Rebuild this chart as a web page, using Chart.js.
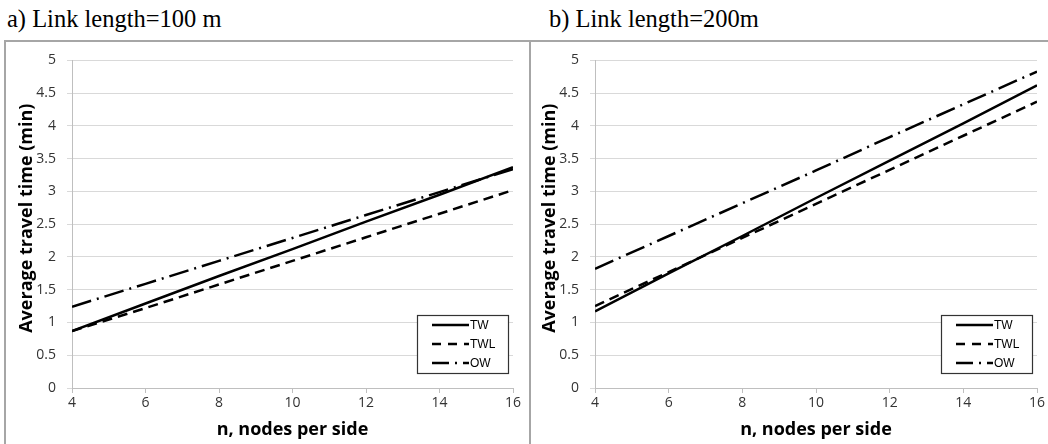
<!DOCTYPE html>
<html>
<head>
<meta charset="utf-8">
<script src="https://cdn.jsdelivr.net/npm/chart.js@4"></script>
<style>
  html, body { margin:0; padding:0; background:#fff; }
  body { width:1048px; height:444px; position:relative; overflow:hidden; }
  .ttl { position:absolute; top:7px; line-height:24px; font-family:"Liberation Serif", serif; font-size:24.5px; color:#000; white-space:nowrap; }
  .panel { position:absolute; top:40px; border:2px solid #a6a6a6; height:420px; box-sizing:border-box; }
  canvas { position:absolute; }
</style>
</head>
<body>
<div class="ttl" style="left:7px">a) Link length=100 m</div>
<div class="ttl" style="left:549px">b) Link length=200m</div>
<div class="panel" style="left:4px; width:527px;"></div>
<div class="panel" style="left:529px; width:530px;"></div>
<canvas id="c1" width="524" height="403" style="left:5px; top:41px;"></canvas>
<canvas id="c2" width="517" height="403" style="left:531px; top:41px;"></canvas>
<script>
// ---- data ----
const nodes = [4, 6, 8, 10, 12, 14, 16];
const yTicks = [0, 0.5, 1, 1.5, 2, 2.5, 3, 3.5, 4, 4.5, 5];
const seriesNames = ["TW", "TWL", "OW"];
// a) Link length = 100 m
const a_TW  = [0.87, 1.29, 1.71, 2.12, 2.54, 2.95, 3.37];
const a_TWL = [0.87, 1.22, 1.58, 1.94, 2.30, 2.66, 3.02];
const a_OW  = [1.24, 1.59, 1.94, 2.29, 2.64, 2.99, 3.34];
// b) Link length = 200 m
const b_TW  = [1.17, 1.75, 2.32, 2.90, 3.47, 4.04, 4.62];
const b_TWL = [1.25, 1.77, 2.29, 2.81, 3.33, 3.85, 4.37];
const b_OW  = [1.82, 2.32, 2.82, 3.32, 3.83, 4.33, 4.83];

const dashes = [[], [10, 6], [20, 6, 2, 6]];
const TICK_FONT = { family: "'Open Sans', sans-serif", size: 14 };
const TICK_COLOR = '#333';

function pts(arr) { return nodes.map((n, i) => ({ x: n, y: arr[i] })); }

const overlay = {
  id: 'overlay',
  afterDraw(chart) {
    const ctx = chart.ctx, ca = chart.chartArea;
    ctx.save();
    ctx.fillStyle = '#000';
    ctx.font = "bold 18px 'Open Sans', sans-serif";
    ctx.textAlign = 'center';
    ctx.textBaseline = 'middle';
    ctx.fillText('n, nodes per side', (ca.left + ca.right) / 2, ca.bottom + 42);
    ctx.translate(ca.left - 45, (ca.top + ca.bottom) / 2 - 6);
    ctx.rotate(-Math.PI / 2);
    ctx.fillText('Average travel time (min)', 0, 0);
    ctx.restore();
    // legend box
    ctx.save();
    const bx = ca.right - 96, by = ca.bottom - 73, bw = 91, bh = 58;
    ctx.fillStyle = '#fff';
    ctx.fillRect(bx, by, bw, bh);
    ctx.strokeStyle = '#333';
    ctx.lineWidth = 1.2;
    ctx.strokeRect(bx + 0.5, by + 0.5, bw, bh);
    ctx.font = "12px 'Liberation Sans', Arial, sans-serif";
    ctx.textAlign = 'left';
    ctx.textBaseline = 'middle';
    chart.data.datasets.forEach((ds, i) => {
      const yy = by + 10 + i * 19;
      ctx.beginPath();
      ctx.setLineDash(i === 2 ? [17, 6, 2, 6] : (i === 1 ? [9, 7] : []));
      ctx.lineWidth = 2.5;
      ctx.strokeStyle = '#000';
      ctx.moveTo(bx + 15, yy);
      ctx.lineTo(bx + 52, yy);
      ctx.stroke();
      ctx.setLineDash([]);
      ctx.fillStyle = '#000';
      ctx.fillText(ds.label, bx + 53, yy + 1);
    });
    ctx.restore();
  }
};

function makeChart(id, series, yAxisWidth, padRight) {
  new Chart(document.getElementById(id), {
    type: 'line',
    data: {
      datasets: series.map((s, i) => ({
        label: seriesNames[i],
        data: pts(s),
        borderColor: '#000',
        borderWidth: 2.5,
        borderDash: dashes[i],
        pointRadius: 0,
        fill: false,
        tension: 0
      }))
    },
    options: {
      responsive: false,
      devicePixelRatio: 1,
      animation: false,
      layout: { padding: { top: 14, right: padRight, left: 0, bottom: 0 } },
      plugins: { legend: { display: false }, tooltip: { enabled: false } },
      scales: {
        x: {
          type: 'linear', min: nodes[0], max: nodes[nodes.length - 1],
          afterBuildTicks: (sc) => { sc.ticks = nodes.map(v => ({ value: v })); },
          ticks: { font: TICK_FONT, color: TICK_COLOR, padding: 2, maxRotation: 0 },
          grid: { drawOnChartArea: false, drawTicks: true, tickLength: 5, color: '#bfbfbf' },
          border: { color: '#bfbfbf' },
          afterFit: (sc) => { sc.height = 56; }
        },
        y: {
          min: yTicks[0], max: yTicks[yTicks.length - 1],
          afterBuildTicks: (sc) => { sc.ticks = yTicks.map(v => ({ value: v })); },
          ticks: { font: TICK_FONT, color: TICK_COLOR, padding: 11, callback: (v) => String(v) },
          grid: { color: '#d9d9d9', tickLength: 5 },
          border: { color: '#bfbfbf' },
          afterFit: (sc) => { sc.width = yAxisWidth; }
        }
      }
    },
    plugins: [overlay]
  });
}

makeChart('c1', [a_TW, a_TWL, a_OW], 67, 16);
makeChart('c2', [b_TW, b_TWL, b_OW], 64, 11);
</script>
</body>
</html>
